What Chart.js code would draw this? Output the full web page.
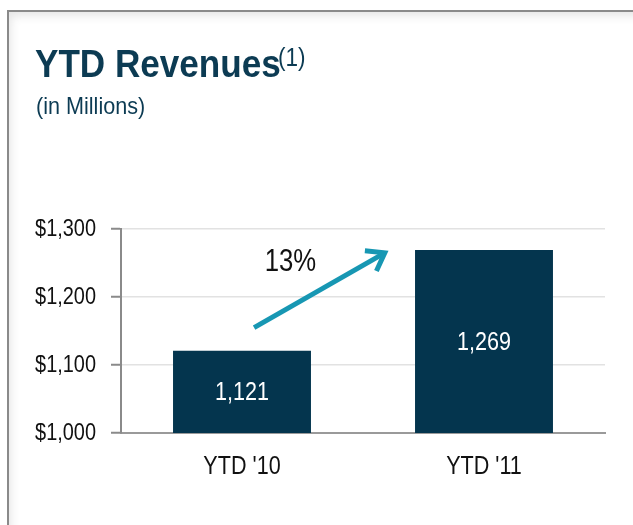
<!DOCTYPE html>
<html>
<head>
<meta charset="utf-8">
<script src="https://cdn.jsdelivr.net/npm/chart.js@4"></script>
<style>
  html, body { margin:0; padding:0; background:#fff; }
  #wrap { position:relative; width:633px; height:525px; overflow:hidden; }
  #frame { position:absolute; left:7px; top:10px; width:640px; height:530px;
           border-top:2px solid #8a8a8a; border-left:2px solid #8a8a8a;
           box-shadow: inset 6px 8px 10px -4px rgba(0,0,0,0.10); }
  canvas { position:absolute; left:0; top:0; }
  .t { position:absolute; font-family:'Liberation Sans',Arial,sans-serif; color:#0c3b53;
       line-height:1; white-space:nowrap; transform-origin:0 0; }
  #title { left:35px; top:44px; font-weight:bold; font-size:39px; transform:scaleX(0.9); }
  #note { left:278px; top:45px; font-size:25px; transform:scaleX(0.9); }
  #sub { left:36px; top:94px; font-size:24px; transform:scaleX(0.9); }
</style>
</head>
<body>
<div id="wrap">
  <div id="frame"></div>
  <canvas id="c" width="633" height="525"></canvas>
  <div id="title" class="t">YTD Revenues</div>
  <div id="note" class="t">(1)</div>
  <div id="sub" class="t">(in Millions)</div>
</div>
<script>
const categories = ["YTD '10", "YTD '11"];
const revenues = [1121, 1269];
const yTicks = [1000, 1100, 1200, 1300];
const growthLabel = "13%";
// arrow annotation in data units: [category index position, value]
const arrowFrom = [0.05, 1155];
const arrowTo = [0.59, 1265];
const growthPos = [0.20, 1251];

const FONT = "'Liberation Sans', Arial, sans-serif";
const SX = 0.83; // horizontal squeeze to mimic a narrow typeface

// draw all canvas text horizontally condensed (keeps anchor/alignment)
const squeeze = {
  id: 'squeeze',
  beforeInit(chart) {
    const ctx = chart.ctx;
    if (ctx.__sq) return;
    ctx.__sq = true;
    const orig = ctx.fillText.bind(ctx);
    ctx.fillText = function (t, x, y, mw) {
      ctx.save();
      ctx.translate(x, y);
      ctx.scale(SX, 1);
      if (mw !== undefined && mw !== null) orig(t, 0, 0, mw / SX); else orig(t, 0, 0);
      ctx.restore();
    };
  }
};

function catPixel(xs, v) {
  const p0 = xs.getPixelForValue(0), p1 = xs.getPixelForValue(1);
  return p0 + (p1 - p0) * v;
}

const overlay = {
  id: 'overlay',
  afterDatasetsDraw(chart) {
    const ctx = chart.ctx, xs = chart.scales.x, ys = chart.scales.y;
    ctx.save();
    ctx.font = '26px ' + FONT;
    ctx.fillStyle = '#ffffff';
    ctx.textAlign = 'center';
    ctx.textBaseline = 'middle';
    revenues.forEach((v, i) => {
      const top = ys.getPixelForValue(v), base = ys.getPixelForValue(ys.min);
      ctx.fillText(v.toLocaleString('en-US'), xs.getPixelForValue(i), (top + base) / 2 + 1);
    });
    // arrow
    const x1 = catPixel(xs, arrowFrom[0]), y1 = ys.getPixelForValue(arrowFrom[1]);
    const x2 = catPixel(xs, arrowTo[0]), y2 = ys.getPixelForValue(arrowTo[1]);
    ctx.strokeStyle = '#1797b3';
    ctx.lineWidth = 5;
    ctx.lineCap = 'butt';
    ctx.lineJoin = 'miter';
    ctx.beginPath();
    ctx.moveTo(x1, y1);
    ctx.lineTo(x2, y2);
    ctx.stroke();
    const ang = Math.atan2(y2 - y1, x2 - x1);
    const hl = 20, ha = 0.62;
    ctx.beginPath();
    ctx.moveTo(x2 - hl * Math.cos(ang - ha), y2 - hl * Math.sin(ang - ha));
    ctx.lineTo(x2, y2);
    ctx.lineTo(x2 - hl * Math.cos(ang + ha), y2 - hl * Math.sin(ang + ha));
    ctx.stroke();
    // growth label
    ctx.fillStyle = '#111111';
    ctx.font = '31px ' + FONT;
    ctx.fillText(growthLabel, catPixel(xs, growthPos[0]), ys.getPixelForValue(growthPos[1]));
    ctx.restore();
  }
};

new Chart(document.getElementById('c'), {
  type: 'bar',
  data: {
    labels: categories,
    datasets: [{
      data: revenues,
      backgroundColor: '#04354e',
      borderWidth: 0,
      barPercentage: 0.57,
      categoryPercentage: 1.0
    }]
  },
  options: {
    responsive: false,
    animation: false,
    events: [],
    layout: { padding: { left: 0, right: 28, top: 229, bottom: 0 } },
    plugins: { legend: { display: false }, tooltip: { enabled: false } },
    scales: {
      x: {
        grid: { display: false, drawTicks: false },
        border: { display: true, color: '#9a9a9a', width: 2 },
        ticks: { color: '#111', font: { family: FONT, size: 26 }, padding: 18 },
        afterFit(s) { s.height = 92; }
      },
      y: {
        min: 1000, max: 1300,
        afterBuildTicks(s) { s.ticks = yTicks.map(v => ({ value: v })); },
        grid: { color: '#e2e2e2', lineWidth: 1.5, tickColor: '#8a8a8a', tickLength: 10, tickWidth: 2 },
        border: { display: true, color: '#8a8a8a', width: 2 },
        ticks: {
          color: '#111', font: { family: FONT, size: 24 }, padding: 15,
          callback: v => '$' + Number(v).toLocaleString('en-US')
        },
        afterFit(s) { s.width = 121; }
      }
    }
  },
  plugins: [squeeze, overlay]
});
</script>
</body>
</html>
